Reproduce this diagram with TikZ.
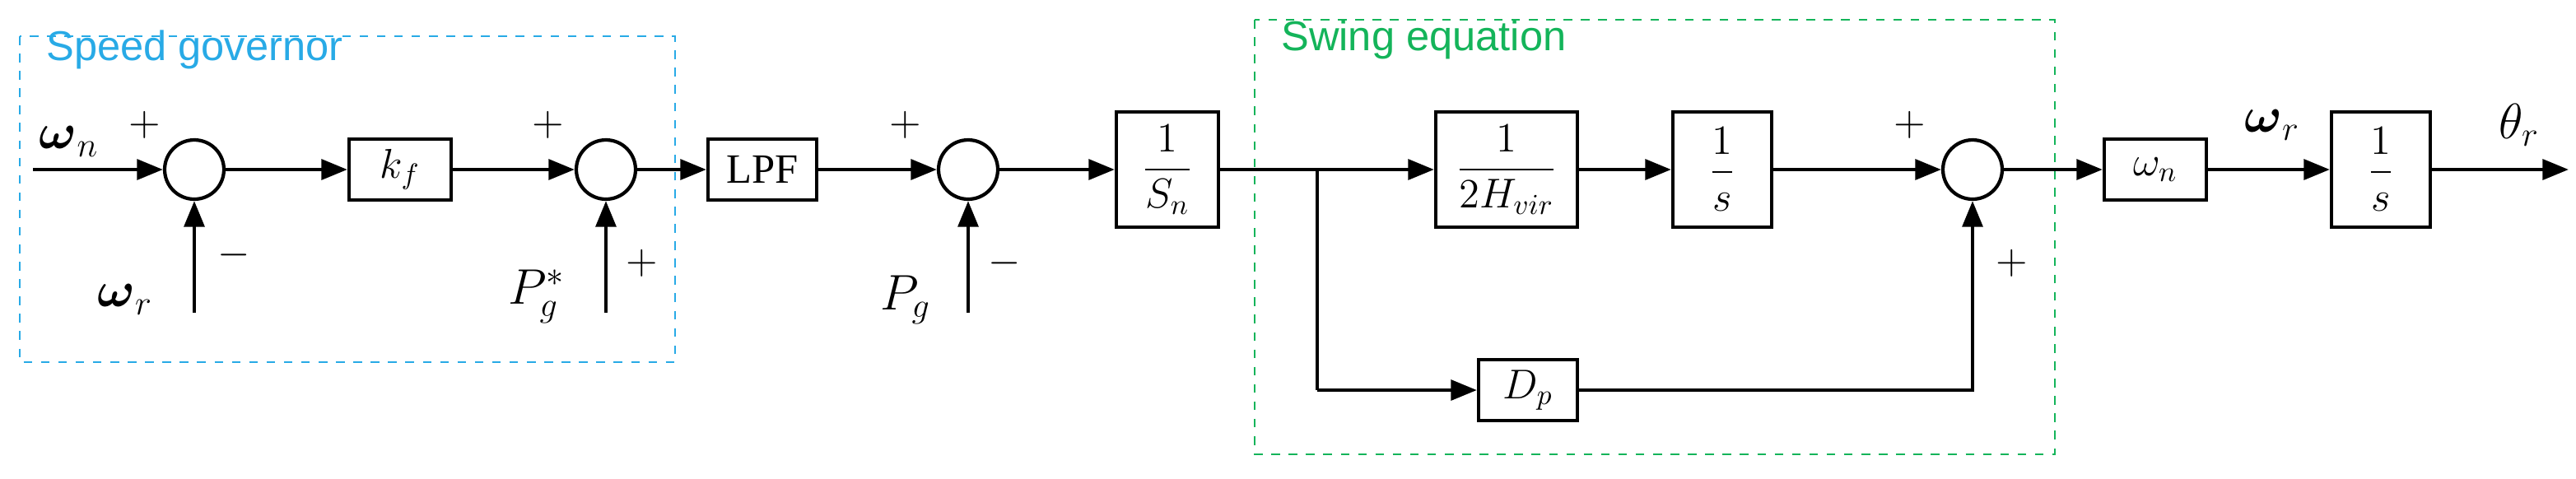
\documentclass[tikz,border=0pt]{standalone}
\usepackage{amsmath}
\usepackage{fontspec}
\setmainfont{Liberation Serif}
\newfontfamily\lsans{Liberation Sans}
\usetikzlibrary{arrows.meta}
\definecolor{cy}{RGB}{40,170,230}
\definecolor{gr}{RGB}{20,180,90}
\begin{document}
\begin{tikzpicture}[x=0.02cm,y=-0.02cm,
 blk/.style={draw,line width=1.2pt,inner sep=0pt,font=\Large},
 sum/.style={draw,circle,line width=1.2pt,minimum size=0.72cm,inner sep=0pt},
 ar/.style={line width=1.3pt,-{Triangle[length=9pt,width=7pt]}},
 ln/.style={line width=1.3pt},
 lb/.style={font=\LARGE},
 sg/.style={font=\Large}]
\useasboundingbox (0,0) rectangle (1564.5,290.5);
\draw[cy,dashed] (12,22) rectangle (410,220);
\node[cy,anchor=west,font=\Large\lsans] (t1) at (22,30) {Speed governor};
\draw[gr,dashed] (762,12) rectangle (1248,276);
\node[gr,anchor=west,font=\Large\lsans] (t2) at (772,24) {Swing equation};

\coordinate (in) at (20,103);
\node[sum] (s1) at (118,103) {};
\node[blk,minimum width=1.24cm,minimum height=0.74cm] (kf) at (243,103) {$k_f$};
\node[sum] (s2) at (368,103) {};
\node[blk,minimum width=1.32cm,minimum height=0.74cm,font=\Large] (lpf) at (463,103) {LPF};
\node[sum] (s3) at (588,103) {};
\node[blk,minimum width=1.24cm,minimum height=1.4cm] (sn) at (709,103) {$\dfrac{1}{S_n}$};
\coordinate (br) at (800,103);
\node[blk,minimum width=1.72cm,minimum height=1.4cm] (h) at (915,103) {$\dfrac{1}{2H_{vir}}$};
\node[blk,minimum width=1.2cm,minimum height=1.4cm] (i1) at (1046,103) {$\dfrac{1}{s}$};
\node[sum] (s4) at (1198,103) {};
\node[blk,minimum width=1.2cm,minimum height=0.74cm] (d) at (928,237) {$D_p$};
\coordinate (bd) at (800,237);
\node[blk,minimum width=1.24cm,minimum height=0.74cm] (wn) at (1309,103) {$\omega_n$};
\node[blk,minimum width=1.2cm,minimum height=1.4cm] (i2) at (1446,103) {$\dfrac{1}{s}$};
\coordinate (out) at (1560,103);
\coordinate (u1) at (118,190);
\coordinate (u2) at (368,190);
\coordinate (u3) at (588,190);

\draw[ar] (in) -- (s1);
\draw[ar] (u1) -- (s1);
\draw[ar] (s1) -- (kf);
\draw[ar] (kf) -- (s2);
\draw[ar] (u2) -- (s2);
\draw[ar] (s2) -- (lpf);
\draw[ar] (lpf) -- (s3);
\draw[ar] (u3) -- (s3);
\draw[ar] (s3) -- (sn);
\draw[ar] (sn) -- (h);
\draw[ar] (h) -- (i1);
\draw[ar] (i1) -- (s4);
\draw[ln] (br) -- (bd);
\draw[ar] (bd) -- (d);
\draw[ar] (d) -| (s4);
\draw[ar] (s4) -- (wn);
\draw[ar] (wn) -- (i2);
\draw[ar] (i2) -- (out);

\node[lb] (l1) at (42,86) {$\boldsymbol{\omega}_n$};
\node[sg] (p1) at (88,76) {$+$};
\node[lb] (l2) at (76,182) {$\boldsymbol{\omega}_r$};
\node[sg] (m1) at (142,155) {$-$};
\node[sg] (p2) at (333,76) {$+$};
\node[lb] (l3) at (326,180) {$P_g^*$};
\node[sg] (p3) at (390,160) {$+$};
\node[sg] (p4) at (550,76) {$+$};
\node[lb] (l4) at (550,182) {$P_g$};
\node[sg] (m2) at (610,160) {$-$};
\node[sg] (p5) at (1160,76) {$+$};
\node[sg] (p6) at (1222,160) {$+$};
\node[lb] (l5) at (1380,76) {$\boldsymbol{\omega}_r$};
\node[lb] (l6) at (1530,76) {$\theta_r$};
\end{tikzpicture}
\end{document}
